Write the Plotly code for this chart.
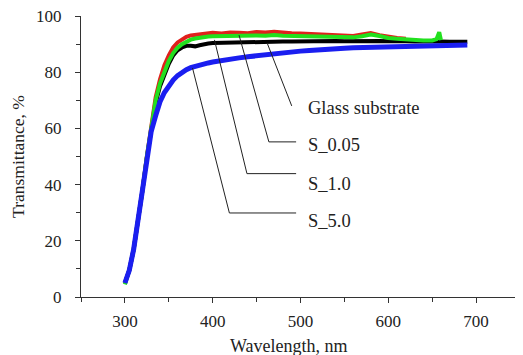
import plotly.graph_objects as go

# ---- data ----
wl_rise = [300, 305, 310, 315, 320, 325, 330, 335, 340, 345, 350, 355, 360, 365, 370,
           375, 380, 385, 390, 395, 400]
wl_tail = [410, 420, 430, 440, 450, 460, 470, 480, 490, 500, 510, 520, 530, 540, 550,
           560, 570, 580, 590, 600, 610, 620, 630, 640, 650, 655, 658, 660, 670, 680, 690, 700]

wl_s005 = wl_rise + wl_tail[:22]
t_s005 = [5, 9.5, 17, 27, 38, 50, 61, 71, 77.5, 82.5, 86, 88.8, 90.6, 91.8, 92.6,
          93.1, 93.3, 93.6, 93.7, 93.9, 94.0,
          93.8, 94.1, 94.0, 93.9, 94.3, 94.1, 94.4, 94.0, 93.9, 93.8, 93.6, 93.5, 93.2, 93.0,
          92.8, 92.9, 93.4, 93.9, 93.2, 92.6, 92.2, 91.9]

wl_s10 = wl_rise + wl_tail[:28]
t_s10 = [4.5, 9.5, 17, 27, 38, 50, 60.5, 70, 76, 80.5, 84, 86.8, 88.7, 90, 90.9,
         91.6, 92.0, 92.3, 92.5, 92.7, 92.8,
         92.9, 93.0, 93.0, 92.9, 93.1, 93.0, 93.2, 93.0, 92.9, 92.9, 92.8, 92.7, 92.5, 92.4,
         92.3, 92.4, 92.8, 93.4, 92.9, 92.2, 91.9, 91.6, 91.5, 91.3, 91.3, 91.8, 94.2, 91.4]

wl_glass = wl_rise + wl_tail
t_glass = [5, 9.5, 17, 27, 38, 49.5, 60, 69, 75, 79.5, 83, 86, 87.8, 88.8, 89.4,
           89.4, 89.2, 89.6, 90.0, 90.2, 90.4,
           90.5, 90.6, 90.6, 90.7, 90.8, 90.7, 90.8, 90.9, 90.9, 91.0, 91.0, 90.9, 91.0, 91.1,
           91.0, 91.1, 91.0, 91.1, 91.1, 91.0, 91.1, 91.0, 90.9, 91.0, 91.0, 90.9, 90.9, 90.9, 90.8, 90.9, 90.8]

wl_s50 = wl_rise + wl_tail
t_s50 = [5, 9.5, 17, 27, 38, 49.5, 59, 64.5, 69.5, 72.8, 75.3, 77.2, 78.8, 80.0, 80.9,
         81.6, 82.1, 82.5, 83.0, 83.3, 83.6,
         84.2, 84.6, 85.1, 85.5, 85.9, 86.2, 86.6, 86.9, 87.2, 87.5, 87.7, 88.0, 88.2, 88.4,
         88.5, 88.7, 88.8, 89.0, 89.0, 89.2, 89.2, 89.3, 89.4, 89.4, 89.5, 89.5, 89.5, 89.5, 89.6, 89.6, 89.7]

x_ticks = [300, 400, 500, 600, 700]
y_ticks = [0, 20, 40, 60, 80, 100]

labels = ["Glass substrate", "S_0.05", "S_1.0", "S_5.0"]
label_x = [506, 506, 506, 506]
label_y = [67.3, 54.1, 40.2, 27.0]
# leader lines: (curve point) -> (corner) -> (end)
leaders = [
    [(462, 90.4), (490, 68.0)],
    [(430, 93.2), (464, 55.2), (495, 55.2)],
    [(402, 91.5), (439, 43.9), (495, 43.9)],
    [(377, 81.5), (419, 29.9), (495, 29.9)],
]

FONT = "Liberation Serif, Times New Roman, serif"

fig = go.Figure()
fig.add_trace(go.Scatter(x=wl_glass, y=t_glass, mode="lines",
                         line=dict(color="#000000", width=4), name="Glass substrate"))
fig.add_trace(go.Scatter(x=wl_s005, y=t_s005, mode="lines",
                         line=dict(color="#e0201c", width=4), name="S_0.05"))
fig.add_trace(go.Scatter(x=wl_s10, y=t_s10, mode="lines",
                         line=dict(color="#22e01e", width=4), name="S_1.0"))
fig.add_trace(go.Scatter(x=wl_s50, y=t_s50, mode="lines",
                         line=dict(color="#1a1ef0", width=5), name="S_5.0"))

shapes = []
for pts in leaders:
    for (x0, y0), (x1, y1) in zip(pts[:-1], pts[1:]):
        shapes.append(dict(type="line", xref="x", yref="y", x0=x0, y0=y0, x1=x1, y1=y1,
                           line=dict(color="#222222", width=1)))

annotations = []
for t, xx, yy in zip(labels, label_x, label_y):
    annotations.append(dict(text=t, x=xx, y=yy, xref="x", yref="y", xanchor="left",
                            yanchor="middle", showarrow=False,
                            font=dict(family=FONT, size=18.5, color="#222222")))
annotations.append(dict(text="Wavelength, nm", x=(289 - 81) / (520 - 81), y=-(346 - 297) / 281,
                        xref="paper", yref="paper", xanchor="center", yanchor="middle",
                        showarrow=False, font=dict(family=FONT, size=18, color="#222222")))

# page body has an 8px margin, so the figure is sized/offset to compensate
fig.update_layout(
    width=515, height=347,
    margin=dict(l=73, r=3, t=8, b=58),
    paper_bgcolor="white", plot_bgcolor="white",
    showlegend=False,
    font=dict(family=FONT, size=17, color="#222222"),
    shapes=shapes, annotations=annotations,
    xaxis=dict(range=[250, 750], tickvals=x_ticks, ticktext=[str(v) for v in x_ticks],
               showgrid=False, zeroline=False, showline=True, linecolor="#333333", linewidth=1,
               ticks="outside", ticklen=5, tickcolor="#333333", ticklabelstandoff=4,
               automargin=False, ticklabeloverflow="allow",
               minor=dict(tickvals=[250, 350, 450, 550, 650, 750], ticks="outside", ticklen=4,
                          tickcolor="#333333", showgrid=False),
               tickfont=dict(family=FONT, size=17, color="#222222")),
    yaxis=dict(range=[0, 100], tickvals=y_ticks, ticktext=[str(v) for v in y_ticks],
               showgrid=False, zeroline=False, showline=True, linecolor="#333333", linewidth=1,
               ticks="outside", ticklen=5, tickcolor="#333333", ticklabelstandoff=10,
               automargin=False, ticklabeloverflow="allow",
               minor=dict(tickvals=[10, 30, 50, 70, 90], ticks="outside", ticklen=4,
                          tickcolor="#333333", showgrid=False),
               tickfont=dict(family=FONT, size=17, color="#222222"),
               title=dict(text="Transmittance, %", standoff=8,
                          font=dict(family=FONT, size=17.5, color="#222222"))),
)

fig.write_html("out.html")
